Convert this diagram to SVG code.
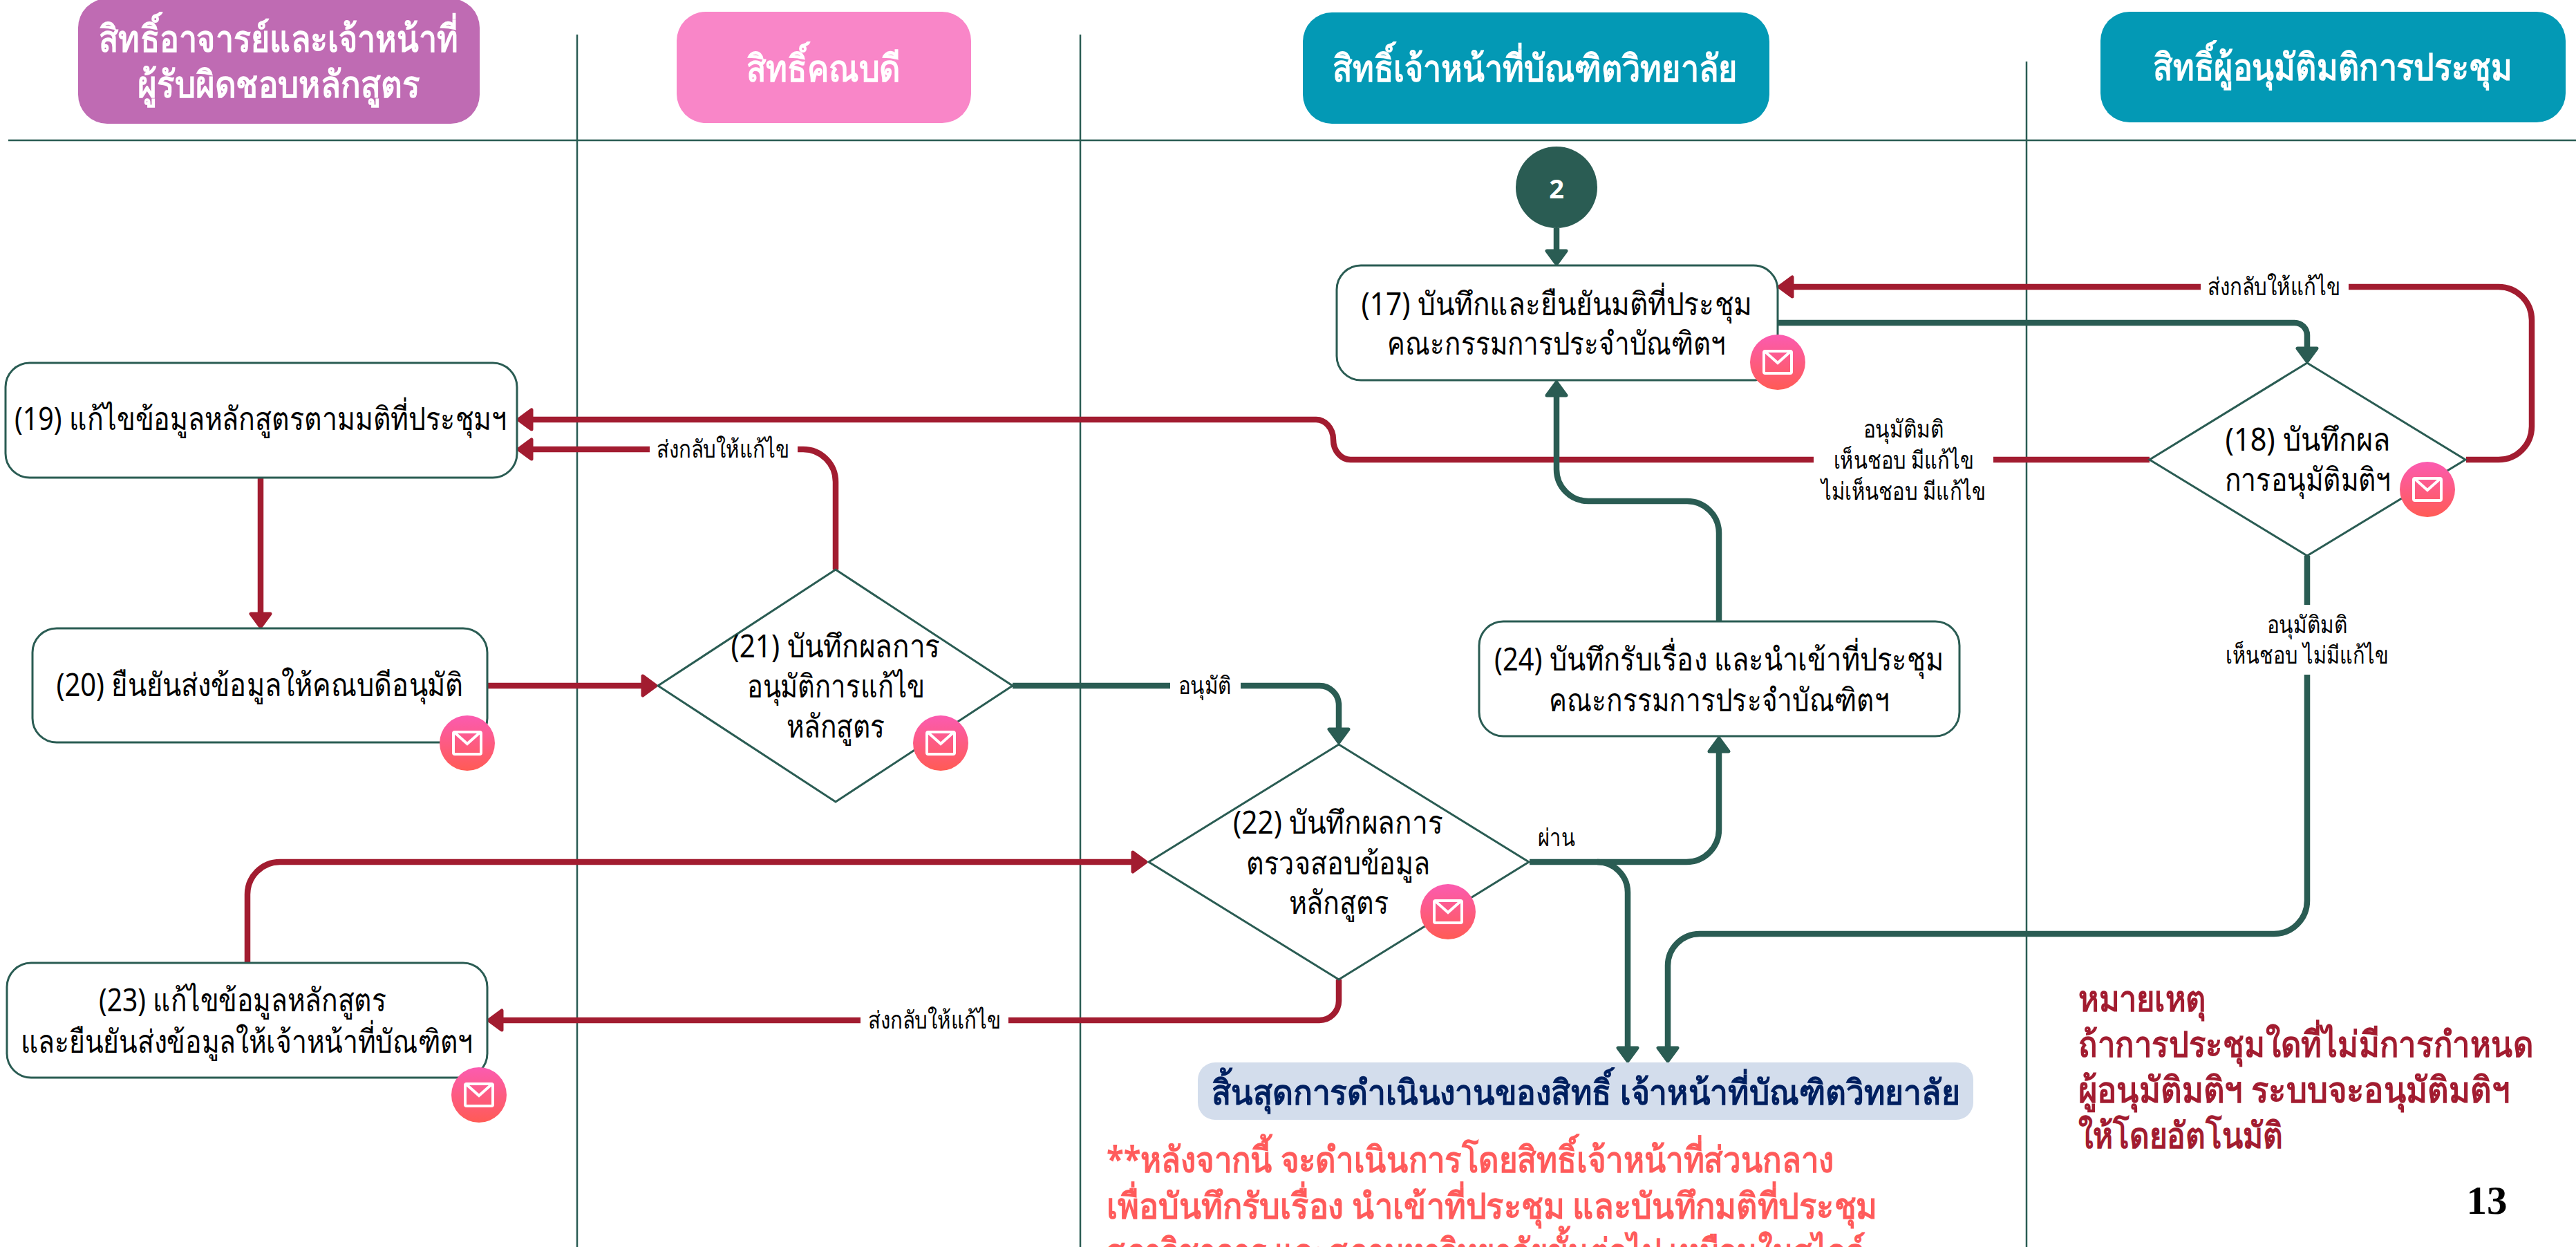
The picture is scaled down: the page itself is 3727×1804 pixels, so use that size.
<svg xmlns="http://www.w3.org/2000/svg" width="3727" height="1804" viewBox="0 0 3727 1804">
<defs>
<linearGradient id="ig" x1="0" y1="0" x2="0" y2="1"><stop offset="0" stop-color="#fb5bb0"/><stop offset="1" stop-color="#ff5b55"/></linearGradient>
<g id="mail"><circle r="40" fill="url(#ig)"/><rect x="-20" y="-16" width="40" height="32" rx="2" fill="none" stroke="#fff" stroke-width="4"/><path d="M-18 -15L0 1L18 -15" fill="none" stroke="#fff" stroke-width="4"/></g>
<marker id="ag" markerUnits="userSpaceOnUse" markerWidth="30" markerHeight="40" refX="4" refY="20" orient="auto" overflow="visible"><path d="M3 6L22 20L3 34Z" fill="#2a5c53" stroke="#2a5c53" stroke-width="5" stroke-linejoin="round"/></marker>
<marker id="ar" markerUnits="userSpaceOnUse" markerWidth="30" markerHeight="40" refX="4" refY="20" orient="auto" overflow="visible"><path d="M3 6L22 20L3 34Z" fill="#a21c30" stroke="#a21c30" stroke-width="5" stroke-linejoin="round"/></marker>
</defs>
<style>
text{font-family:"Noto Sans","Liberation Sans",sans-serif;text-anchor:middle;fill:#000}
.head{font-size:54px;font-weight:700;fill:#fff}
.node{font-size:46px}
.lab{font-size:35px}
.box{fill:#fff;stroke:#2a5c53;stroke-width:3}
.line{stroke:#2a5c53;stroke-width:2.5;fill:none}
.g{fill:none;stroke:#2a5c53;stroke-width:8.5;marker-end:url(#ag)}
.gn{fill:none;stroke:#2a5c53;stroke-width:8.5}
.r{fill:none;stroke:#a21c30;stroke-width:8.5;marker-end:url(#ar)}
.rn{fill:none;stroke:#a21c30;stroke-width:8.5}
.st{text-anchor:start;font-weight:700;font-size:52px}
.c1{fill:#ff5b5b}
.c2{fill:#a21c30}
</style>
<rect width="3727" height="1804" fill="#fff"/>
<g id="grid">
<path class="line" d="M12 203H3727M835 50V1804M1563 50V1804M2932 89V1804"/>
</g>
<g id="h1"><rect x="113" y="-2" width="581" height="181" rx="42" fill="#bf6bb3"/><text class="head" x="403" y="75" textLength="520" lengthAdjust="spacingAndGlyphs">สิทธิ์อาจารย์และเจ้าหน้าที่</text><text class="head" x="403" y="141" textLength="408" lengthAdjust="spacingAndGlyphs">ผู้รับผิดชอบหลักสูตร</text></g>
<g id="h2"><rect x="979" y="17" width="426" height="161" rx="42" fill="#f986c8"/><text class="head" x="1191" y="118" textLength="223" lengthAdjust="spacingAndGlyphs">สิทธิ์คณบดี</text></g>
<g id="h3"><rect x="1885" y="18" width="675" height="161" rx="42" fill="#0399b5"/><text class="head" x="2221" y="118" textLength="586" lengthAdjust="spacingAndGlyphs">สิทธิ์เจ้าหน้าที่บัณฑิตวิทยาลัย</text></g>
<g id="h4"><rect x="3039" y="17" width="673" height="160" rx="42" fill="#0399b5"/><text class="head" x="3375" y="116" textLength="520" lengthAdjust="spacingAndGlyphs">สิทธิ์ผู้อนุมัติมติการประชุม</text></g>
<g id="connectors">
<path class="r" d="M3184 415H2592"/>
<path class="rn" d="M3568 665H3615A48 48 0 0 0 3663 617V463A48 48 0 0 0 3615 415H3398"/>
<path class="g" d="M2572 467H3320A18 18 0 0 1 3338 485V505"/>
<path class="rn" d="M3110 665H2884"/>
<path class="r" d="M2624 665H1955A25 29 0 0 1 1929 636A25 29 0 0 0 1903 607H768"/>
<path class="rn" d="M1209 824V697A47 47 0 0 0 1162 650H1154"/>
<path class="r" d="M940 650H768"/>
<path class="r" d="M377 691V889"/>
<path class="r" d="M705 992H931"/>
<path class="gn" d="M1465 992H1693"/>
<path class="g" d="M1795 992H1909A28 28 0 0 1 1937 1020V1056"/>
<path class="r" d="M358 1393V1294A47 47 0 0 1 405 1247H1640"/>
<path class="rn" d="M1937 1417V1448A28 28 0 0 1 1909 1476H1459"/>
<path class="r" d="M1245 1476H725"/>
<path class="g" d="M2213 1247H2440A47 47 0 0 0 2487 1200V1086"/>
<path class="g" d="M2311 1247A44 44 0 0 1 2355 1291V1517"/>
<path class="g" d="M2487 899V771A46 46 0 0 0 2441 725H2298A46 46 0 0 1 2252 679V571"/>
<path class="g" d="M2252 330V364"/>
<path class="gn" d="M3338 804V875"/>
<path class="g" d="M3338 976V1303A48 48 0 0 1 3290 1351H2459A46 46 0 0 0 2413 1397V1517"/>
</g>
<g id="n2"><circle cx="2252" cy="271" r="59" fill="#2a5c53"/><text x="2252" y="287" style="font-size:38px;font-weight:700;fill:#fff">2</text></g>
<g id="n17"><rect class="box" x="1934" y="384" width="638" height="166" rx="35"/><text class="node" x="2252" y="456" textLength="565" lengthAdjust="spacingAndGlyphs">(17) บันทึกและยืนยันมติที่ประชุม</text><text class="node" x="2252" y="513" textLength="490" lengthAdjust="spacingAndGlyphs">คณะกรรมการประจำบัณฑิตฯ</text><use href="#mail" x="2572" y="524"/></g>
<g id="n18"><path class="box" d="M3338 525L3567 665L3338 804L3110 665Z"/><text class="node" x="3339" y="652" textLength="239" lengthAdjust="spacingAndGlyphs">(18) บันทึกผล</text><text class="node" x="3339" y="710" textLength="241" lengthAdjust="spacingAndGlyphs">การอนุมัติมติฯ</text><use href="#mail" x="3512" y="708"/></g>
<g id="n19"><rect class="box" x="8" y="525" width="740" height="166" rx="35"/><text class="node" x="377" y="622" textLength="712" lengthAdjust="spacingAndGlyphs">(19) แก้ไขข้อมูลหลักสูตรตามมติที่ประชุมฯ</text></g>
<g id="n20"><rect class="box" x="47" y="909" width="658" height="165" rx="35"/><text class="node" x="376" y="1007" textLength="589" lengthAdjust="spacingAndGlyphs">(20) ยืนยันส่งข้อมูลให้คณบดีอนุมัติ</text><use href="#mail" x="676" y="1075"/></g>
<g id="n21"><path class="box" d="M1209 824L1465 992L1209 1160L952 992Z"/><text class="node" x="1209" y="951" textLength="303" lengthAdjust="spacingAndGlyphs">(21) บันทึกผลการ</text><text class="node" x="1209" y="1009" textLength="257" lengthAdjust="spacingAndGlyphs">อนุมัติการแก้ไข</text><text class="node" x="1209" y="1067" textLength="143" lengthAdjust="spacingAndGlyphs">หลักสูตร</text><use href="#mail" x="1361" y="1075"/></g>
<g id="n22"><path class="box" d="M1937 1077L2212 1247L1937 1417L1662 1247Z"/><text class="node" x="1936" y="1206" textLength="304" lengthAdjust="spacingAndGlyphs">(22) บันทึกผลการ</text><text class="node" x="1936" y="1265" textLength="266" lengthAdjust="spacingAndGlyphs">ตรวจสอบข้อมูล</text><text class="node" x="1937" y="1322" textLength="145" lengthAdjust="spacingAndGlyphs">หลักสูตร</text><use href="#mail" x="2095" y="1319"/></g>
<g id="n23"><rect class="box" x="10" y="1393" width="695" height="166" rx="35"/><text class="node" x="351" y="1463" textLength="416" lengthAdjust="spacingAndGlyphs">(23) แก้ไขข้อมูลหลักสูตร</text><text class="node" x="357" y="1523" textLength="655" lengthAdjust="spacingAndGlyphs">และยืนยันส่งข้อมูลให้เจ้าหน้าที่บัณฑิตฯ</text><use href="#mail" x="693" y="1584"/></g>
<g id="n24"><rect class="box" x="2140" y="899" width="695" height="166" rx="35"/><text class="node" x="2487" y="970" textLength="650" lengthAdjust="spacingAndGlyphs">(24) บันทึกรับเรื่อง และนำเข้าที่ประชุม</text><text class="node" x="2487" y="1029" textLength="493" lengthAdjust="spacingAndGlyphs">คณะกรรมการประจำบัณฑิตฯ</text></g>
<g id="labels">
<text class="lab" x="3290" y="427" textLength="192" lengthAdjust="spacingAndGlyphs">ส่งกลับให้แก้ไข</text>
<text class="lab" x="2754" y="633" textLength="117" lengthAdjust="spacingAndGlyphs">อนุมัติมติ</text><text class="lab" x="2754" y="678" textLength="203" lengthAdjust="spacingAndGlyphs">เห็นชอบ มีแก้ไข</text><text class="lab" x="2754" y="723" textLength="239" lengthAdjust="spacingAndGlyphs">ไม่เห็นชอบ มีแก้ไข</text>
<text class="lab" x="1046" y="662" textLength="192" lengthAdjust="spacingAndGlyphs">ส่งกลับให้แก้ไข</text>
<text class="lab" x="1743" y="1004" textLength="77" lengthAdjust="spacingAndGlyphs">อนุมัติ</text>
<text class="lab" x="2252" y="1224" textLength="54" lengthAdjust="spacingAndGlyphs">ผ่าน</text>
<text class="lab" x="1352" y="1488" textLength="192" lengthAdjust="spacingAndGlyphs">ส่งกลับให้แก้ไข</text>
<text class="lab" x="3338" y="916" textLength="117" lengthAdjust="spacingAndGlyphs">อนุมัติมติ</text><text class="lab" x="3338" y="960" textLength="236" lengthAdjust="spacingAndGlyphs">เห็นชอบ ไม่มีแก้ไข</text>
</g>
<g id="end"><rect x="1733" y="1537" width="1122" height="83" rx="25" fill="#d3ddec"/><text x="2294" y="1598" style="font-size:50px;font-weight:700;fill:#002060" textLength="1083" lengthAdjust="spacingAndGlyphs">สิ้นสุดการดำเนินงานของสิทธิ์ เจ้าหน้าที่บัณฑิตวิทยาลัย</text></g>
<g id="note1">
<text class="st c1" x="1601" y="1696" textLength="1052" lengthAdjust="spacingAndGlyphs">**หลังจากนี้ จะดำเนินการโดยสิทธิ์เจ้าหน้าที่ส่วนกลาง</text>
<text class="st c1" x="1601" y="1763" textLength="1115" lengthAdjust="spacingAndGlyphs">เพื่อบันทึกรับเรื่อง นำเข้าที่ประชุม และบันทึกมติที่ประชุม</text>
<text class="st c1" x="1601" y="1829" textLength="1098" lengthAdjust="spacingAndGlyphs">สภาวิชาการ และสภามหาวิทยาลัยขั้นต่อไป เหมือนในสไลด์</text>
</g>
<g id="note2">
<text class="st c2" x="3007" y="1463" textLength="185" lengthAdjust="spacingAndGlyphs">หมายเหตุ</text>
<text class="st c2" transform="translate(3007 1529) scale(.9 1)" x="0" y="0" textLength="731" lengthAdjust="spacingAndGlyphs">ถ้าการประชุมใดที่ไม่มีการกำหนด</text>
<text class="st c2" x="3007" y="1595" textLength="624" lengthAdjust="spacingAndGlyphs">ผู้อนุมัติมติฯ ระบบจะอนุมัติมติฯ</text>
<text class="st c2" x="3007" y="1661" textLength="296" lengthAdjust="spacingAndGlyphs">ให้โดยอัตโนมัติ</text>
</g>
<text x="3598" y="1756" style="font-family:'Liberation Serif',serif;font-size:58px;font-weight:700" textLength="59" lengthAdjust="spacingAndGlyphs">13</text>
</svg>
